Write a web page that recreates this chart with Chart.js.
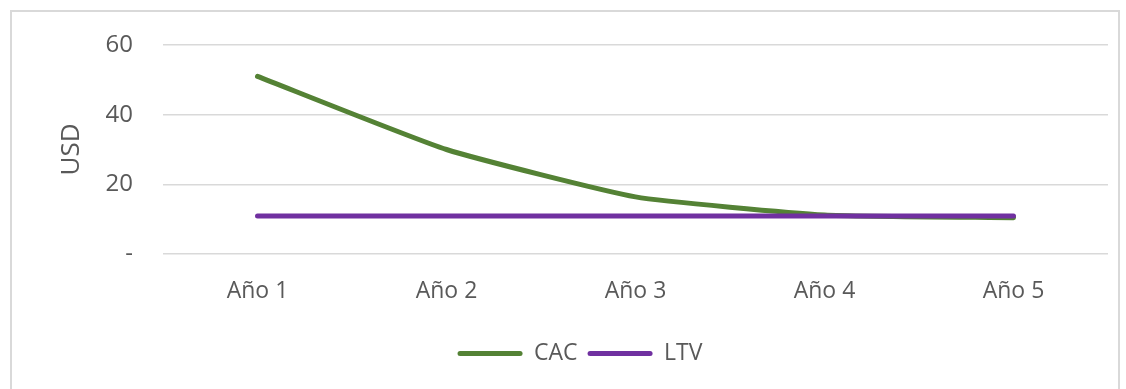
<!DOCTYPE html>
<html>
<head>
    <meta charset="utf-8">
    <title>CAC vs LTV</title>
    <script src="https://cdn.jsdelivr.net/npm/chart.js"></script>
    <style>
        html, body {
            margin: 0;
            padding: 0;
            background: #ffffff;
        }
        .frame {
            position: absolute;
            left: 10px;
            top: 10px;
            width: 1110px;
            height: 400px;
            border: 2px solid #d9d9d9;
            box-sizing: border-box;
        }
        .chart-box {
            position: absolute;
            left: 0;
            top: 0;
            width: 1126px;
            height: 389px;
        }
    </style>
</head>
<body>
<div class="frame"></div>
<div class="chart-box">
    <canvas id="chart"></canvas>
</div>

<script>
    const years = ["Año 1", "Año 2", "Año 3", "Año 4", "Año 5"];
    const cacValues = [51, 30, 16.4, 11.2, 10.4];
    const ltvValues = [10.9, 10.9, 10.9, 10.9, 10.9];
    const yTicks = [0, 20, 40, 60];

    const textColor = "#595959";
    const gridColor = "#d9d9d9";
    const fontFamily = "'Open Sans', 'Liberation Sans', sans-serif";

    const ctx = document.getElementById("chart").getContext("2d");

    new Chart(ctx, {
        type: "line",
        data: {
            labels: years,
            datasets: [
                {
                    label: "CAC",
                    data: cacValues,
                    borderColor: "#548235",
                    backgroundColor: "#548235",
                    borderWidth: 5,
                    borderCapStyle: "round",
                    borderJoinStyle: "round",
                    pointRadius: 0,
                    tension: 0.15,
                    order: 1
                },
                {
                    label: "LTV",
                    data: ltvValues,
                    borderColor: "#7030a0",
                    backgroundColor: "#7030a0",
                    borderWidth: 5,
                    borderCapStyle: "round",
                    pointRadius: 0,
                    tension: 0,
                    order: 0
                }
            ]
        },
        options: {
            responsive: true,
            maintainAspectRatio: false,
            animation: false,
            layout: {
                padding: { left: 52, right: 18, top: 45, bottom: 14 }
            },
            plugins: {
                tooltip: { enabled: false },
                legend: {
                    position: "bottom",
                    labels: {
                        boxWidth: 65,
                        boxHeight: 5,
                        padding: 10,
                        color: textColor,
                        font: { family: fontFamily, size: 23 },
                        useBorderRadius: true,
                        borderRadius: 2.5,
                        sort: (a, b) => a.datasetIndex - b.datasetIndex,
                        generateLabels: function(chart) {
                            const items = Chart.defaults.plugins.legend.labels.generateLabels(chart);
                            items.forEach(item => { item.lineWidth = 0; });
                            return items;
                        }
                    }
                }
            },
            scales: {
                x: {
                    offset: true,
                    grid: { display: false, drawTicks: false },
                    border: { display: false },
                    ticks: {
                        color: textColor,
                        padding: 24,
                        font: { family: fontFamily, size: 23 }
                    },
                    afterFit: function(scale) { scale.height = 78; }
                },
                y: {
                    min: 0,
                    max: 60,
                    afterBuildTicks: function(scale) {
                        scale.ticks = yTicks.map(v => ({ value: v }));
                    },
                    grid: {
                        color: gridColor,
                        lineWidth: 1.5,
                        drawTicks: false
                    },
                    border: { display: false },
                    ticks: {
                        color: textColor,
                        padding: 30,
                        font: { family: fontFamily, size: 24 },
                        callback: v => v === 0 ? "-" : v
                    },
                    title: {
                        display: true,
                        text: "USD",
                        color: textColor,
                        font: { family: fontFamily, size: 26 },
                        padding: { top: 4, bottom: 0 }
                    },
                    afterFit: function(scale) { scale.width = 111; }
                }
            }
        }
    });
</script>
</body>
</html>
